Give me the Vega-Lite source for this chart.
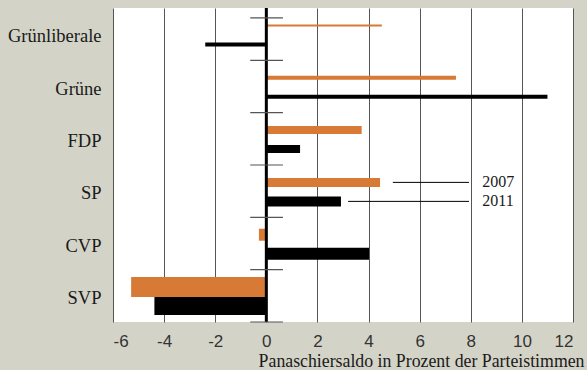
{
  "$schema": "https://vega.github.io/schema/vega-lite/v6.json",
  "width": 460,
  "height": 314,
  "autosize": {"type": "none"},
  "padding": {"left": 113, "top": 8, "right": 14, "bottom": 48},
  "background": "#D3D4C7",
  "config": {
    "view": {"fill": "#ffffff", "stroke": null},
    "axis": {"labelFont": "Liberation Serif", "titleFont": "Liberation Serif"}
  },
  "layer": [
    {
      "data": {"values": [
        {"partei": "Grünliberale", "jahr": "2007", "wert": 4.52, "gewicht": 2},
        {"partei": "Grünliberale", "jahr": "2011", "wert": -2.39, "gewicht": 4},
        {"partei": "Grüne", "jahr": "2007", "wert": 7.42, "gewicht": 4},
        {"partei": "Grüne", "jahr": "2011", "wert": 11.0, "gewicht": 4},
        {"partei": "FDP", "jahr": "2007", "wert": 3.73, "gewicht": 8},
        {"partei": "FDP", "jahr": "2011", "wert": 1.32, "gewicht": 8},
        {"partei": "SP", "jahr": "2007", "wert": 4.45, "gewicht": 9},
        {"partei": "SP", "jahr": "2011", "wert": 2.92, "gewicht": 10},
        {"partei": "CVP", "jahr": "2007", "wert": -0.29, "gewicht": 12},
        {"partei": "CVP", "jahr": "2011", "wert": 4.02, "gewicht": 12},
        {"partei": "SVP", "jahr": "2007", "wert": -5.29, "gewicht": 20},
        {"partei": "SVP", "jahr": "2011", "wert": -4.38, "gewicht": 18}
      ]},
      "mark": {"type": "bar"},
      "encoding": {
        "y": {
          "field": "partei", "type": "nominal", "sort": null,
          "scale": {"domain": ["Grünliberale", "Grüne", "FDP", "SP", "CVP", "SVP"], "paddingInner": 0, "paddingOuter": 0},
          "axis": {"title": null, "ticks": false, "domain": false, "labelFontSize": 18.5, "labelColor": "#1a1a1a", "labelPadding": 12, "labelOffset": 2, "labelFont": "Liberation Serif"}
        },
        "yOffset": {"field": "jahr", "type": "nominal", "scale": {"domain": ["2007", "2011"], "paddingInner": 0, "paddingOuter": 0.377, "align": 0.55}},
        "x": {
          "field": "wert", "type": "quantitative",
          "scale": {"domain": [-6, 12], "nice": false, "zero": false},
          "axis": {
            "title": "Panaschiersaldo in Prozent der Parteistimmen",
            "values": [-6, -4, -2, 0, 2, 4, 6, 8, 10, 12],
            "labelExpr": "'' + datum.value",
            "grid": true, "gridColor": "#555555", "gridWidth": 1,
            "ticks": false, "domain": false,
            "labelFont": "Liberation Sans", "labelFontSize": 17, "labelColor": "#333333", "labelPadding": 11,
            "titleFont": "Liberation Serif", "titleFontSize": 17.8, "titleFontWeight": "normal", "titleColor": "#1a1a1a",
            "titleAnchor": "end", "titleAlign": "right", "titleBaseline": "alphabetic", "titleX": 471, "titleY": 44
          }
        },
        "size": {"field": "gewicht", "type": "quantitative", "scale": {"type": "linear", "domain": [0, 20], "range": [0, 20]}, "legend": null},
        "color": {"field": "jahr", "type": "nominal", "scale": {"domain": ["2007", "2011"], "range": ["#D67A36", "#000000"]}, "legend": null}
      }
    },
    {
      "data": {"values": [{"null": 0}]},
      "mark": {"type": "rule", "color": "#000000", "strokeWidth": 3},
      "encoding": {"x": {"datum": 0}}
    },
    {
      "data": {"values": [
        {"partei": "Grüne", "von": -0.63, "bis": 0.65},
        {"partei": "FDP", "von": -0.63, "bis": 0.65},
        {"partei": "SP", "von": -0.63, "bis": 0.65},
        {"partei": "CVP", "von": -0.63, "bis": 0.65},
        {"partei": "SVP", "von": -0.63, "bis": 0.65}
      ]},
      "mark": {"type": "rule", "color": "#555555", "strokeWidth": 1.2},
      "encoding": {
        "y": {"field": "partei", "type": "nominal", "sort": null, "bandPosition": 0},
        "x": {"field": "von", "type": "quantitative"},
        "x2": {"field": "bis"}
      }
    },
    {
      "data": {"values": [
        {"partei": "SVP", "von": -0.63, "bis": 0.65}
      ]},
      "mark": {"type": "rule", "color": "#555555", "strokeWidth": 1.2},
      "encoding": {
        "y": {"field": "partei", "type": "nominal", "sort": null, "bandPosition": 1},
        "x": {"field": "von", "type": "quantitative"},
        "x2": {"field": "bis"}
      }
    },
    {
      "data": {"values": [
        {"partei": "Grünliberale", "von": -0.63, "bis": 0.65}
      ]},
      "mark": {"type": "rule", "color": "#555555", "strokeWidth": 1.2},
      "encoding": {
        "y": {"field": "partei", "type": "nominal", "sort": null, "bandPosition": 0.19},
        "x": {"field": "von", "type": "quantitative"},
        "x2": {"field": "bis"}
      }
    },
    {
      "data": {"values": [
        {"partei": "SP", "jahr": "2007", "von": 4.95, "bis": 7.93, "textpos": 8.45},
        {"partei": "SP", "jahr": "2011", "von": 3.2, "bis": 7.93, "textpos": 8.45}
      ]},
      "layer": [
        {
          "mark": {"type": "rule", "color": "#000000", "strokeWidth": 1},
          "encoding": {
            "y": {"field": "partei", "type": "nominal", "sort": null},
            "yOffset": {"field": "jahr", "type": "nominal"},
            "x": {"field": "von", "type": "quantitative"},
            "x2": {"field": "bis"}
          }
        },
        {
          "mark": {"type": "text", "align": "left", "baseline": "middle", "font": "Liberation Serif", "fontSize": 16, "color": "#1a1a1a"},
          "encoding": {
            "y": {"field": "partei", "type": "nominal", "sort": null},
            "yOffset": {"field": "jahr", "type": "nominal"},
            "x": {"field": "textpos", "type": "quantitative"},
            "text": {"field": "jahr"}
          }
        }
      ]
    }
  ]
}
